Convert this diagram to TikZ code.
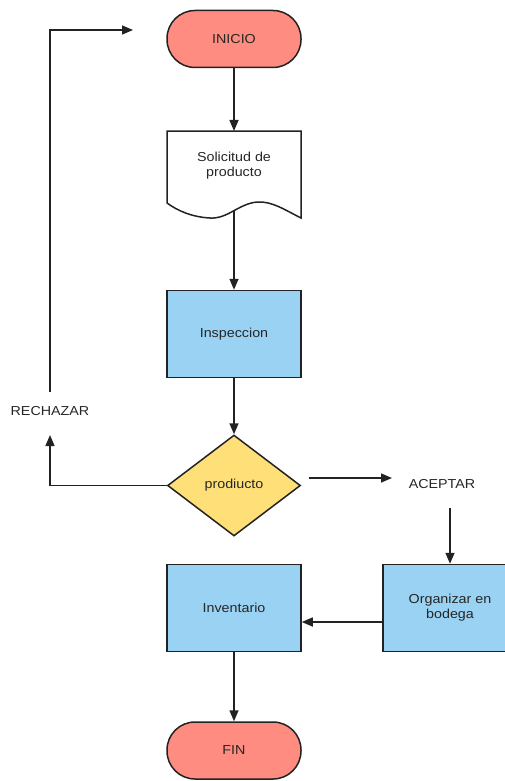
\documentclass[tikz,border=0pt]{standalone}
\usepackage{fontspec}
\setmainfont{Liberation Sans}[FakeStretch=1.1]
\usepackage{xcolor}
\usetikzlibrary{arrows.meta,shapes.geometric}

\definecolor{termfill}{HTML}{FF8C80}
\definecolor{procfill}{HTML}{9AD2F3}
\definecolor{decfill}{HTML}{FFDF78}
\definecolor{edge}{HTML}{222222}

\tikzset{
	base/.style={draw=edge, line width=1.5pt, align=center, inner sep=0pt, text=black!85,
		font=\fontsize{13}{15}\selectfont},
	term/.style={base, fill=termfill, rectangle, rounded corners=28pt,
		minimum width=134pt, minimum height=57pt},
	proc/.style={base, fill=procfill, rectangle, minimum width=134pt, minimum height=87pt},
	deci/.style={base, fill=decfill, diamond, minimum width=133pt, minimum height=101pt},
	lbl/.style={align=center, inner sep=0pt, text=black!85, font=\fontsize{13}{15}\selectfont},
	flow/.style={draw=edge, line width=1.5pt, -{Triangle[length=11pt,width=9pt]}}
}

\begin{document}
\begin{tikzpicture}[x=1pt,y=-1pt]
	\useasboundingbox (0,0) rectangle (505,781);
	% main column
	\node[term] (ini) at (234,39) {INICIO};
	% document shape
	\draw[base, fill=white] (167,131) -- (301,131) -- (301,218)
		.. controls (285,210) and (272,201) .. (257,202)
		.. controls (238,204) and (228,219) .. (210,218)
		.. controls (192,217) and (178,211) .. (167,203) -- cycle;
	\node[lbl] (sol) at (234,166) {Solicitud de\\producto};
	\coordinate (soltop) at (234,131);
	\coordinate (solbot) at (234,211);
	\node[proc] (insp) at (234,334) {Inspeccion};
	\node[deci] (dec) at (234,485.5) {prodiucto};
	\node[proc] (inv) at (234,608) {Inventario};
	\node[term] (fin) at (234,750.5) {FIN};
	% side branches
	\node[lbl] (rech) at (50,411) {RECHAZAR};
	\node[lbl] (acep) at (442,484) {ACEPTAR};
	\node[proc] (org) at (450,608) {Organizar en\\bodega};
	\coordinate (back) at (133,30);
	\coordinate (dece) at (309,478);
	\coordinate (aceptop) at (392,478);
	\coordinate (acepb) at (450,508);
	% connectors
	\draw[flow] (ini.south) -- (soltop);
	\draw[flow] (solbot) -- (insp.north);
	\draw[flow] (insp.south) -- (dec.north);
	\draw[flow] (dec.west) -| ([yshift=-24pt]rech.center);
	\draw[flow] ([yshift=19pt]rech.center) |- (back);
	\draw[flow] (dece) -- (aceptop);
	\draw[flow] (acepb) -- (org.north);
	\draw[flow] ([yshift=-14pt]org.west) -- ([yshift=-14pt]inv.east);
	\draw[flow] (inv.south) -- (fin.north);
\end{tikzpicture}
\end{document}
